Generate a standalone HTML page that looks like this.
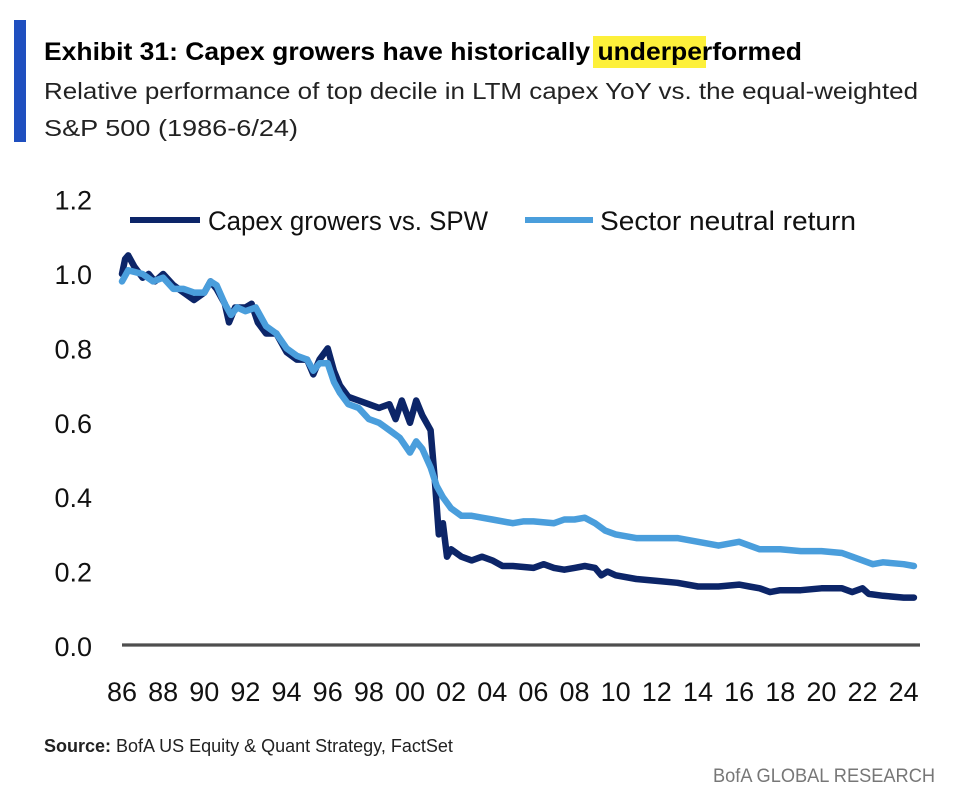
<!DOCTYPE html>
<html><head><meta charset="utf-8"><style>
html,body{margin:0;padding:0;background:#fff;}
svg{display:block;font-family:"Liberation Sans",sans-serif;}
</style></head><body>
<svg id="chart" width="964" height="810" viewBox="0 0 964 810">
<rect x="14" y="20" width="12" height="122" fill="#1f4fbf"/>
<rect x="593" y="36" width="113" height="32" fill="#fdf03a"/>
<text x="44" y="60" font-size="25" font-weight="bold" fill="#000" textLength="758" lengthAdjust="spacingAndGlyphs">Exhibit 31: Capex growers have historically underperformed</text>
<text x="44" y="99" font-size="23" fill="#222" textLength="874" lengthAdjust="spacingAndGlyphs">Relative performance of top decile in LTM capex YoY vs. the equal-weighted</text>
<text x="44" y="136" font-size="23" fill="#222" textLength="254" lengthAdjust="spacingAndGlyphs">S&amp;P 500 (1986-6/24)</text>
<g id="yaxis"></g>
<g id="xaxis"></g>
<line x1="122" y1="645" x2="920" y2="645" stroke="#222" stroke-width="3"/>
<line x1="122" y1="645" x2="920" y2="645" stroke="#999" stroke-width="0.8"/>
<g id="series"></g>
<g>
<line x1="130" y1="220" x2="200" y2="220" stroke="#0c2568" stroke-width="6"/>
<text x="208" y="230" font-size="27" fill="#111" textLength="280" lengthAdjust="spacingAndGlyphs">Capex growers vs. SPW</text>
<line x1="525" y1="220" x2="593" y2="220" stroke="#4a9edc" stroke-width="6"/>
<text x="600" y="230" font-size="27" fill="#111" textLength="256" lengthAdjust="spacingAndGlyphs">Sector neutral return</text>
</g>
<text x="44" y="752" font-size="18" fill="#222"><tspan font-weight="bold">Source:</tspan> BofA US Equity &amp; Quant Strategy, FactSet</text>
<text x="935" y="782" font-size="19" fill="#777" text-anchor="end" textLength="222" lengthAdjust="spacingAndGlyphs">BofA GLOBAL RESEARCH</text>
</svg>
<script>
const yTicks = [0.0, 0.2, 0.4, 0.6, 0.8, 1.0, 1.2];
const yTickLabels = ["0.0","0.2","0.4","0.6","0.8","1.0","1.2"];
const xTickYears = [1986,1988,1990,1992,1994,1996,1998,2000,2002,2004,2006,2008,2010,2012,2014,2016,2018,2020,2022,2024];
const xTickLabels = ["86","88","90","92","94","96","98","00","02","04","06","08","10","12","14","16","18","20","22","24"];
const capexT = [1986.0,1986.15,1986.3,1986.6,1987.0,1987.3,1987.6,1988.0,1988.5,1989.0,1989.5,1990.0,1990.3,1990.6,1991.0,1991.2,1991.5,1992.0,1992.3,1992.6,1993.0,1993.5,1994.0,1994.5,1995.0,1995.3,1995.6,1996.0,1996.3,1996.6,1997.0,1997.5,1998.0,1998.5,1999.0,1999.3,1999.6,2000.0,2000.3,2000.6,2001.0,2001.2,2001.4,2001.6,2001.8,2002.0,2002.5,2003.0,2003.5,2004.0,2004.5,2005.0,2006.0,2006.5,2007.0,2007.5,2008.0,2008.5,2009.0,2009.3,2009.6,2010,2011,2012,2013,2014,2015,2016,2016.5,2017,2017.5,2018,2019,2020,2021,2021.5,2022,2022.3,2023,2024,2024.5];
const capexV = [1.00,1.04,1.05,1.02,0.99,1.00,0.98,1.00,0.97,0.95,0.93,0.95,0.98,0.96,0.92,0.87,0.91,0.91,0.92,0.87,0.84,0.84,0.79,0.77,0.77,0.73,0.77,0.80,0.74,0.70,0.67,0.66,0.65,0.64,0.65,0.61,0.66,0.60,0.66,0.62,0.58,0.45,0.30,0.33,0.24,0.26,0.24,0.23,0.24,0.23,0.215,0.215,0.21,0.22,0.21,0.205,0.21,0.215,0.21,0.19,0.20,0.19,0.18,0.175,0.17,0.16,0.16,0.165,0.16,0.155,0.145,0.15,0.15,0.155,0.155,0.145,0.155,0.14,0.135,0.13,0.13];
const sectorT = [1986,1986.3,1987,1987.5,1988,1988.5,1989,1989.5,1990,1990.3,1990.6,1991,1991.3,1991.6,1992,1992.5,1993,1993.5,1994,1994.5,1995,1995.3,1995.6,1996,1996.3,1996.6,1997,1997.5,1998,1998.5,1999,1999.5,2000,2000.3,2000.6,2001,2001.3,2001.6,2002,2002.5,2003,2003.5,2004,2005,2005.5,2006,2007,2007.5,2008,2008.5,2009,2009.5,2010,2011,2012,2013,2014,2015,2016,2016.5,2017,2018,2019,2020,2021,2021.5,2022,2022.5,2023,2024,2024.5];
const sectorV = [0.98,1.01,1.00,0.98,0.99,0.96,0.96,0.95,0.95,0.98,0.97,0.92,0.89,0.91,0.90,0.91,0.86,0.84,0.80,0.78,0.77,0.74,0.76,0.76,0.71,0.68,0.65,0.64,0.61,0.60,0.58,0.56,0.52,0.55,0.53,0.48,0.43,0.40,0.37,0.35,0.35,0.345,0.34,0.33,0.335,0.335,0.33,0.34,0.34,0.345,0.33,0.31,0.30,0.29,0.29,0.29,0.28,0.27,0.28,0.27,0.26,0.26,0.255,0.255,0.25,0.24,0.23,0.22,0.225,0.22,0.215];

const NS = "http://www.w3.org/2000/svg";
function xS(t){ return 122 + (t - 1986) * 20.57; }
function yS(v){ return 646 - v * 372; }
const yax = document.getElementById('yaxis');
yTicks.forEach((v,i)=>{
  const t = document.createElementNS(NS,'text');
  t.setAttribute('x', 92); t.setAttribute('y', yS(v) + 10);
  t.setAttribute('text-anchor','end'); t.setAttribute('font-size','27'); t.setAttribute('fill','#111');
  
  
  t.textContent = yTickLabels[i];
  yax.appendChild(t);
});
const xax = document.getElementById('xaxis');
xTickYears.forEach((yr,i)=>{
  const t = document.createElementNS(NS,'text');
  t.setAttribute('x', xS(yr)); t.setAttribute('y', 701);
  t.setAttribute('text-anchor','middle'); t.setAttribute('font-size','27'); t.setAttribute('fill','#111');
  
  
  t.textContent = xTickLabels[i];
  xax.appendChild(t);
});
const ser = document.getElementById('series');
function drawLine(ts, vs, color, name){
  const p = document.createElementNS(NS,'polyline');
  p.setAttribute('points', ts.map((t,i)=>xS(t).toFixed(1)+','+yS(vs[i]).toFixed(1)).join(' '));
  p.setAttribute('fill','none'); p.setAttribute('stroke',color); p.setAttribute('stroke-width','6.5');
  p.setAttribute('stroke-linejoin','round'); p.setAttribute('stroke-linecap','round');
  
  
  ser.appendChild(p);
}
drawLine(capexT, capexV, '#0c2568', 'capex-growers-line');
drawLine(sectorT, sectorV, '#4a9edc', 'sector-neutral-line');
</script>
</body></html>
